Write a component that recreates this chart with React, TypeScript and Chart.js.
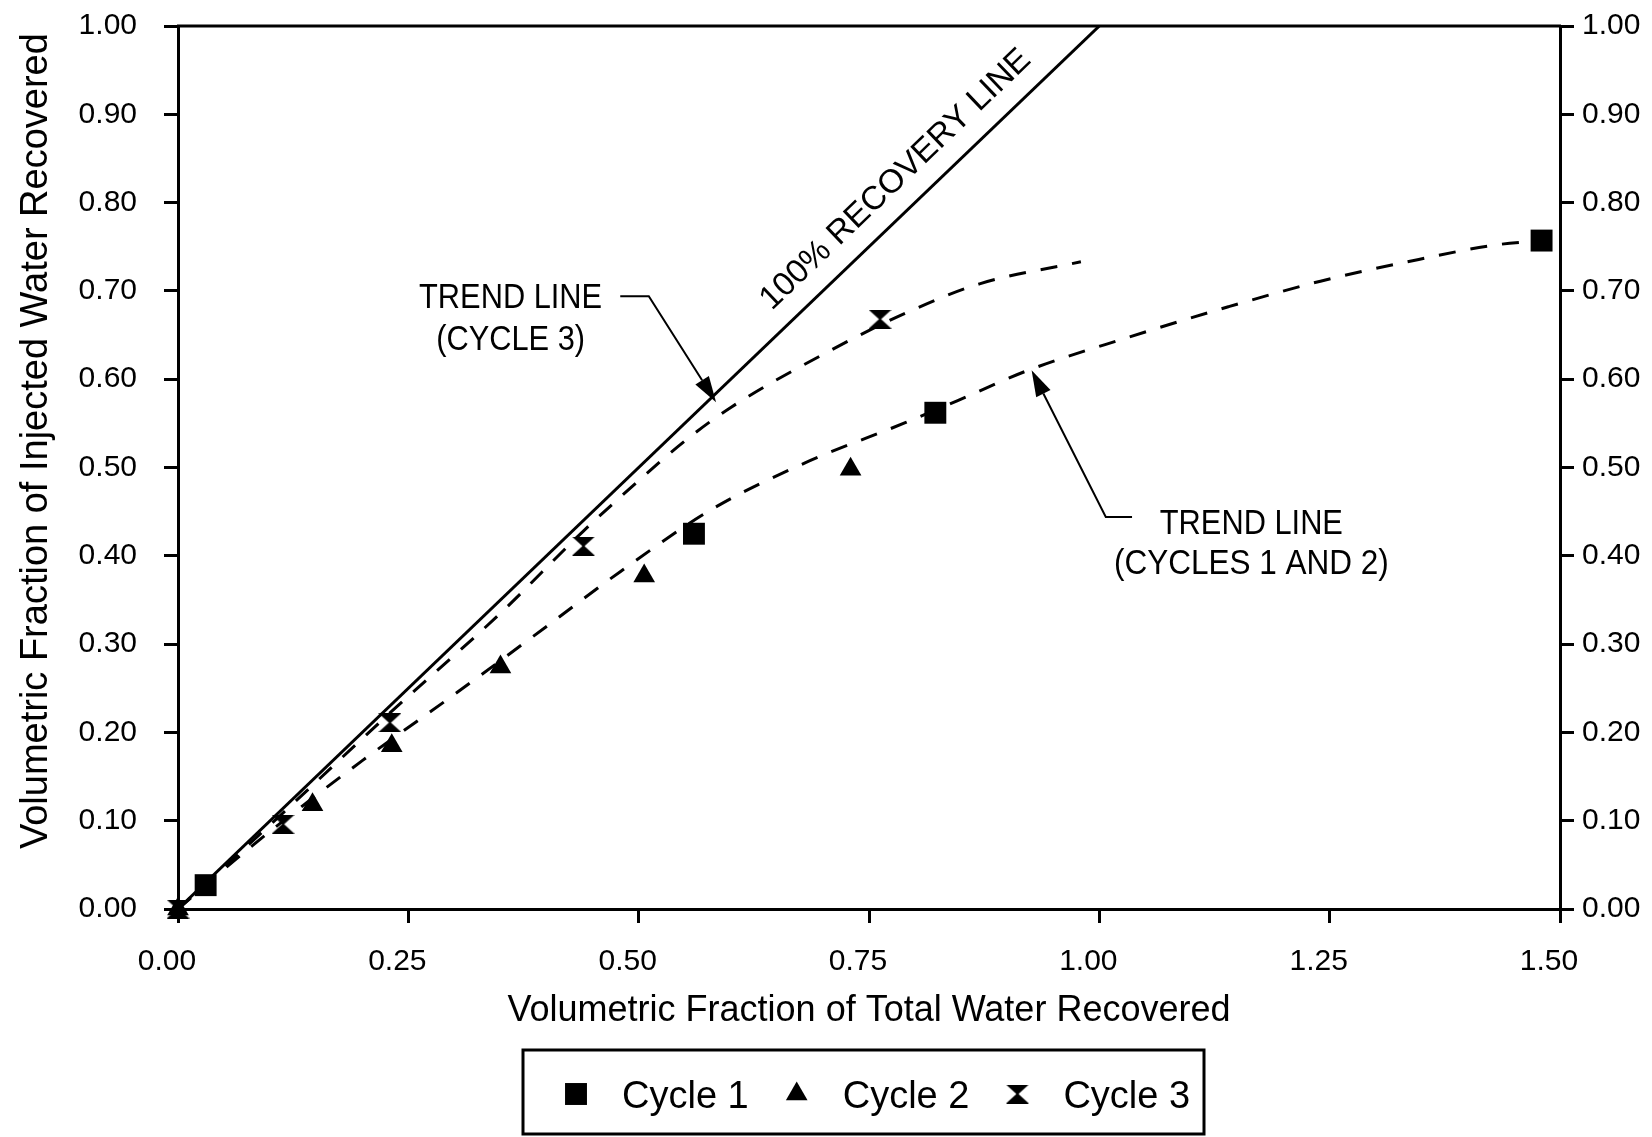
import React, { useEffect, useRef } from 'react';
import { Chart, registerables } from 'chart.js';

Chart.register(...registerables);

// ---------- data ----------
const xTickValues = [0, 0.25, 0.5, 0.75, 1.0, 1.25, 1.5];
const yTickValues = [0, 0.1, 0.2, 0.3, 0.4, 0.5, 0.6, 0.7, 0.8, 0.9, 1.0];

const cycle1X = [0.03, 0.56, 0.822, 1.48];
const cycle1Y = [0.027, 0.425, 0.562, 0.757];

const cycle2X = [0, 0.146, 0.232, 0.35, 0.506, 0.73];
const cycle2Y = [0, 0.118, 0.185, 0.274, 0.377, 0.498];

const cycle3X = [0, 0.114, 0.23, 0.44, 0.762];
const cycle3Y = [0, 0.096, 0.211, 0.411, 0.668];

const recoveryX = [0, 1.0];
const recoveryY = [0, 1.0];

const trend3X = [0, 0.11, 0.23, 0.35, 0.44, 0.5, 0.55, 0.6, 0.7, 0.79, 0.87, 0.98];
const trend3Y = [0, 0.105, 0.222, 0.335, 0.428, 0.485, 0.53, 0.568, 0.628, 0.675, 0.708, 0.733];

const trend12X = [0, 0.05, 0.1, 0.2, 0.3, 0.4, 0.48, 0.58, 0.68, 0.79, 0.86, 0.92, 1.03, 1.14, 1.24, 1.33, 1.43, 1.48];
const trend12Y = [0, 0.045, 0.088, 0.168, 0.243, 0.32, 0.382, 0.453, 0.505, 0.551, 0.582, 0.609, 0.647, 0.682, 0.711, 0.732, 0.752, 0.757];

const seriesLabels = ['Cycle 1', 'Cycle 2', 'Cycle 3'];
const xTitle = 'Volumetric Fraction of Total Water Recovered';
const yTitle = 'Volumetric Fraction of Injected Water Recovered';
const recoveryLabel = '100% RECOVERY LINE';
const trend3Label = ['TREND LINE', '(CYCLE 3)'];
const trend12Label = ['TREND LINE', '(CYCLES 1 AND 2)'];

const FONT = '"Liberation Sans", Arial, sans-serif';

const toPoints = (xs: number[], ys: number[]) => xs.map((x, i) => ({ x, y: ys[i] }));

function makeHourglass(w: number, h: number) {
  const c = document.createElement('canvas');
  c.width = w;
  c.height = h;
  const g = c.getContext('2d')!;
  g.fillStyle = '#000';
  g.beginPath();
  g.moveTo(0, 0);
  g.lineTo(w, 0);
  g.lineTo(w / 2 + 1, h / 2);
  g.lineTo(w, h);
  g.lineTo(0, h);
  g.lineTo(w / 2 - 1, h / 2);
  g.closePath();
  g.fill();
  return c;
}

function drawMarker(ctx: CanvasRenderingContext2D, style: any, radius: number, x: number, y: number) {
  ctx.save();
  ctx.fillStyle = '#000';
  if (style === 'rect') {
    const s = Math.SQRT1_2 * radius;
    ctx.fillRect(x - s, y - s, 2 * s, 2 * s);
  } else if (style === 'triangle') {
    ctx.beginPath();
    let rad = 0;
    for (let i = 0; i < 3; i++) {
      const px = x + Math.sin(rad) * radius;
      const py = y - Math.cos(rad) * radius;
      if (i === 0) ctx.moveTo(px, py);
      else ctx.lineTo(px, py);
      rad += (2 * Math.PI) / 3;
    }
    ctx.closePath();
    ctx.fill();
  } else if (style && style.width) {
    ctx.drawImage(style, x - style.width / 2, y - style.height / 2);
  }
  ctx.restore();
}

function arrow(ctx: CanvasRenderingContext2D, pts: number[][]) {
  ctx.save();
  ctx.strokeStyle = '#000';
  ctx.fillStyle = '#000';
  ctx.lineWidth = 2;
  const n = pts.length;
  const [tx, ty] = pts[n - 1];
  const [fx, fy] = pts[n - 2];
  const ang = Math.atan2(ty - fy, tx - fx);
  const len = 26;
  const half = 8;
  const bx = tx - Math.cos(ang) * len;
  const by = ty - Math.sin(ang) * len;
  ctx.beginPath();
  ctx.moveTo(pts[0][0], pts[0][1]);
  for (let i = 1; i < n - 1; i++) ctx.lineTo(pts[i][0], pts[i][1]);
  ctx.lineTo(bx, by);
  ctx.stroke();
  ctx.beginPath();
  ctx.moveTo(tx, ty);
  ctx.lineTo(bx + Math.sin(ang) * half, by - Math.cos(ang) * half);
  ctx.lineTo(bx - Math.sin(ang) * half, by + Math.cos(ang) * half);
  ctx.closePath();
  ctx.fill();
  ctx.restore();
}

function condensedText(ctx: CanvasRenderingContext2D, text: string, cx: number, baseline: number, sx: number) {
  ctx.save();
  ctx.translate(cx, baseline);
  ctx.scale(sx, 1);
  ctx.textAlign = 'center';
  ctx.textBaseline = 'alphabetic';
  ctx.fillText(text, 0, 0);
  ctx.restore();
}

const annotationPlugin = {
  id: 'annotationsAndFrame',
  afterDatasetsDraw(chart: any) {
    const { ctx, chartArea } = chart;
    const xs = chart.scales.x;
    const ys = chart.scales.y;
    const P = (x: number, y: number) => [xs.getPixelForValue(x), ys.getPixelForValue(y)];
    ctx.save();
    // top frame line
    ctx.strokeStyle = '#000';
    ctx.lineWidth = 3;
    ctx.beginPath();
    ctx.moveTo(chartArea.left - 1, chartArea.top);
    ctx.lineTo(chartArea.right + 1, chartArea.top);
    ctx.stroke();

    ctx.fillStyle = '#000';
    // 100% recovery line label
    const [ax, ay] = P(0, 0);
    const [bx, by] = P(1, 1);
    const angle = Math.atan2(by - ay, bx - ax);
    const [lx, ly] = P(0.779, 0.826);
    ctx.save();
    ctx.translate(lx, ly);
    ctx.rotate(angle);
    ctx.font = `33px ${FONT}`;
    ctx.textAlign = 'center';
    ctx.textBaseline = 'middle';
    ctx.fillText(recoveryLabel, 0, 0);
    ctx.restore();

    // trend line (cycle 3)
    ctx.font = `35px ${FONT}`;
    let p = P(0.361, 0.695);
    condensedText(ctx, trend3Label[0], p[0], p[1] + 13, 0.88);
    p = P(0.361, 0.648);
    condensedText(ctx, trend3Label[1], p[0], p[1] + 13, 0.88);
    arrow(ctx, [P(0.48, 0.694), P(0.511, 0.694), P(0.584, 0.574)]);

    // trend line (cycles 1 and 2)
    p = P(1.165, 0.439);
    condensedText(ctx, trend12Label[0], p[0], p[1] + 13, 0.88);
    p = P(1.165, 0.394);
    condensedText(ctx, trend12Label[1], p[0], p[1] + 13, 0.9);
    arrow(ctx, [P(1.0355, 0.444), P(1.007, 0.444), P(0.9265, 0.61)]);
    ctx.restore();
  },
  afterDraw(chart: any) {
    const { ctx, chartArea } = chart;
    const boxLeft = chartArea.left + 345;
    const boxTop = chartArea.bottom + 141;
    const boxW = 681;
    const boxH = 84;
    ctx.save();
    ctx.strokeStyle = '#000';
    ctx.lineWidth = 3;
    ctx.strokeRect(boxLeft, boxTop, boxW, boxH);
    ctx.font = `38px ${FONT}`;
    ctx.fillStyle = '#000';
    ctx.textBaseline = 'alphabetic';
    ctx.textAlign = 'left';
    let x = boxLeft + 53;
    const markerY = boxTop + 44;
    const textY = boxTop + 58;
    seriesLabels.forEach((label, i) => {
      const ds = chart.data.datasets[i];
      drawMarker(ctx, ds.pointStyle, ds.pointRadius, x, markerY);
      const tx = x + 46;
      ctx.fillText(label, tx, textY);
      x = tx + ctx.measureText(label).width + 48;
    });
    ctx.restore();
  },
};

export default function App() {
  const ref = useRef<HTMLCanvasElement | null>(null);

  useEffect(() => {
    if (!ref.current) return;
    const hourglass = makeHourglass(23, 19);
    const black = '#000';
    const tickCb = (v: any) => Number(v).toFixed(2);
    const gridOpts = {
      display: true,
      drawOnChartArea: false,
      drawTicks: true,
      tickLength: 14,
      lineWidth: 3,
      color: black,
    };
    const borderOpts = { display: true, color: black, width: 3 };
    const fitY = (w: number) => (s: any) => {
      s.width = w;
      s.paddingTop = 0;
      s.paddingBottom = 0;
    };

    const chart = new Chart(ref.current, {
      type: 'scatter',
      data: {
        datasets: [
          {
            label: seriesLabels[0],
            data: toPoints(cycle1X, cycle1Y),
            pointStyle: 'rect',
            pointRadius: 15.5,
            backgroundColor: black,
            borderColor: black,
            borderWidth: 0,
            clip: false,
          },
          {
            label: seriesLabels[1],
            data: toPoints(cycle2X, cycle2Y),
            pointStyle: 'triangle',
            pointRadius: 12.5,
            backgroundColor: black,
            borderColor: black,
            borderWidth: 0,
            clip: false,
          },
          {
            label: seriesLabels[2],
            data: toPoints(cycle3X, cycle3Y),
            pointStyle: hourglass as any,
            pointRadius: 11,
            backgroundColor: black,
            borderColor: black,
            borderWidth: 0,
            clip: false,
          },
          {
            label: '100% Recovery Line',
            data: toPoints(recoveryX, recoveryY),
            showLine: true,
            pointRadius: 0,
            borderColor: black,
            borderWidth: 3,
          },
          {
            label: 'Trend Line (Cycle 3)',
            data: toPoints(trend3X, trend3Y),
            showLine: true,
            pointRadius: 0,
            borderColor: black,
            borderWidth: 3,
            borderDash: [17, 15],
            cubicInterpolationMode: 'monotone',
            tension: 0.4,
          },
          {
            label: 'Trend Line (Cycles 1 and 2)',
            data: toPoints(trend12X, trend12Y),
            showLine: true,
            pointRadius: 0,
            borderColor: black,
            borderWidth: 3,
            borderDash: [17, 15],
            cubicInterpolationMode: 'monotone',
            tension: 0.4,
          },
        ] as any,
      },
      options: {
        animation: false,
        responsive: true,
        maintainAspectRatio: false,
        layout: { padding: { top: 26, left: 0, right: 0, bottom: 0 } },
        plugins: {
          legend: { display: false },
          tooltip: { enabled: false },
        },
        scales: {
          x: {
            type: 'linear',
            position: 'bottom',
            min: 0,
            max: 1.5,
            afterBuildTicks: (s: any) => {
              s.ticks = xTickValues.map((v) => ({ value: v }));
            },
            afterFit: (s: any) => {
              s.height = 228;
            },
            ticks: {
              callback: tickCb,
              font: { family: FONT, size: 30 },
              color: black,
              padding: 21,
              labelOffset: -11,
              maxRotation: 0,
              autoSkip: false,
            },
            grid: gridOpts,
            border: borderOpts,
            title: {
              display: true,
              text: xTitle,
              color: black,
              font: { family: FONT, size: 36 },
              padding: { top: 0, bottom: 104 },
            },
          },
          y: {
            type: 'linear',
            position: 'left',
            min: 0,
            max: 1,
            afterBuildTicks: (s: any) => {
              s.ticks = yTickValues.map((v) => ({ value: v }));
            },
            afterFit: fitY(178),
            ticks: {
              callback: tickCb,
              font: { family: FONT, size: 30 },
              color: black,
              padding: 27,
              autoSkip: false,
            },
            grid: gridOpts,
            border: borderOpts,
            title: {
              display: true,
              text: '\u00A0\u00A0\u00A0\u00A0\u00A0' + yTitle,
              color: black,
              font: { family: FONT, size: 38 },
              padding: { top: 14, bottom: 0 },
            },
          },
          y2: {
            type: 'linear',
            position: 'right',
            min: 0,
            max: 1,
            afterBuildTicks: (s: any) => {
              s.ticks = yTickValues.map((v) => ({ value: v }));
            },
            afterFit: fitY(92),
            ticks: {
              callback: tickCb,
              font: { family: FONT, size: 30 },
              color: black,
              padding: 8,
              autoSkip: false,
            },
            grid: gridOpts,
            border: borderOpts,
          },
        },
      } as any,
      plugins: [annotationPlugin],
    });
    return () => chart.destroy();
  }, []);

  return (
    <div style={{ position: 'fixed', left: 0, top: 0, width: 1652, height: 1137, background: '#fff' }}>
      <canvas ref={ref} />
    </div>
  );
}
